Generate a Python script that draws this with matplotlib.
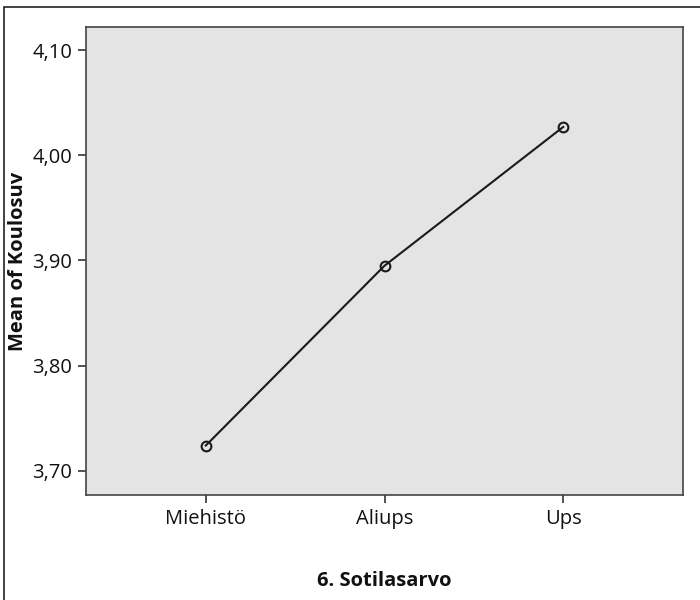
import matplotlib.pyplot as plt
from matplotlib.patches import Rectangle
from matplotlib.ticker import FuncFormatter

# Keskiarvot sotilasarvon mukaan
categories = ['Miehistö', 'Aliups', 'Ups']
means = [3.724, 3.895, 4.027]
yticks = [3.70, 3.80, 3.90, 4.00, 4.10]

plt.rcParams['font.family'] = ['Open Sans', 'DejaVu Sans']

fig = plt.figure(figsize=(7, 6), dpi=100)
ax = fig.add_axes([0.1229, 0.175, 0.8528, 0.780])

x = range(len(categories))
ax.plot(x, means, color='#1a1a1a', linewidth=1.5, marker='o', markersize=7,
        markerfacecolor='none', markeredgecolor='#1a1a1a', markeredgewidth=1.5)

ax.set_facecolor('#e4e4e4')
ax.set_xlim(-0.67, 2.67)
ax.set_ylim(3.677, 4.122)
ax.set_xticks(list(x))
ax.set_xticklabels(categories)
ax.set_yticks(yticks)
ax.yaxis.set_major_formatter(FuncFormatter(lambda v, p: f'{v:.2f}'.replace('.', ',')))
ax.tick_params(axis='both', labelsize=14.5, length=6, width=1.2, color='#333333',
               labelcolor='#111111', pad=4)

for s in ax.spines.values():
    s.set_color('#444444')
    s.set_linewidth(1.2)

ax.set_xlabel('6. Sotilasarvo', fontsize=14.5, fontweight='bold', labelpad=30, color='#111111')
ax.set_ylabel('Mean of Koulosuv', fontsize=14.5, fontweight='bold', color='#111111')
ax.yaxis.set_label_coords(-0.097, 0.5)

# kehys kuvan ympärillä
fig.patches.append(Rectangle((4 / 700, -0.1), 1.2, 1 - 7 / 600 + 0.1,
                             transform=fig.transFigure, fill=False,
                             edgecolor='#222222', linewidth=1.2))

plt.savefig('out.png')
